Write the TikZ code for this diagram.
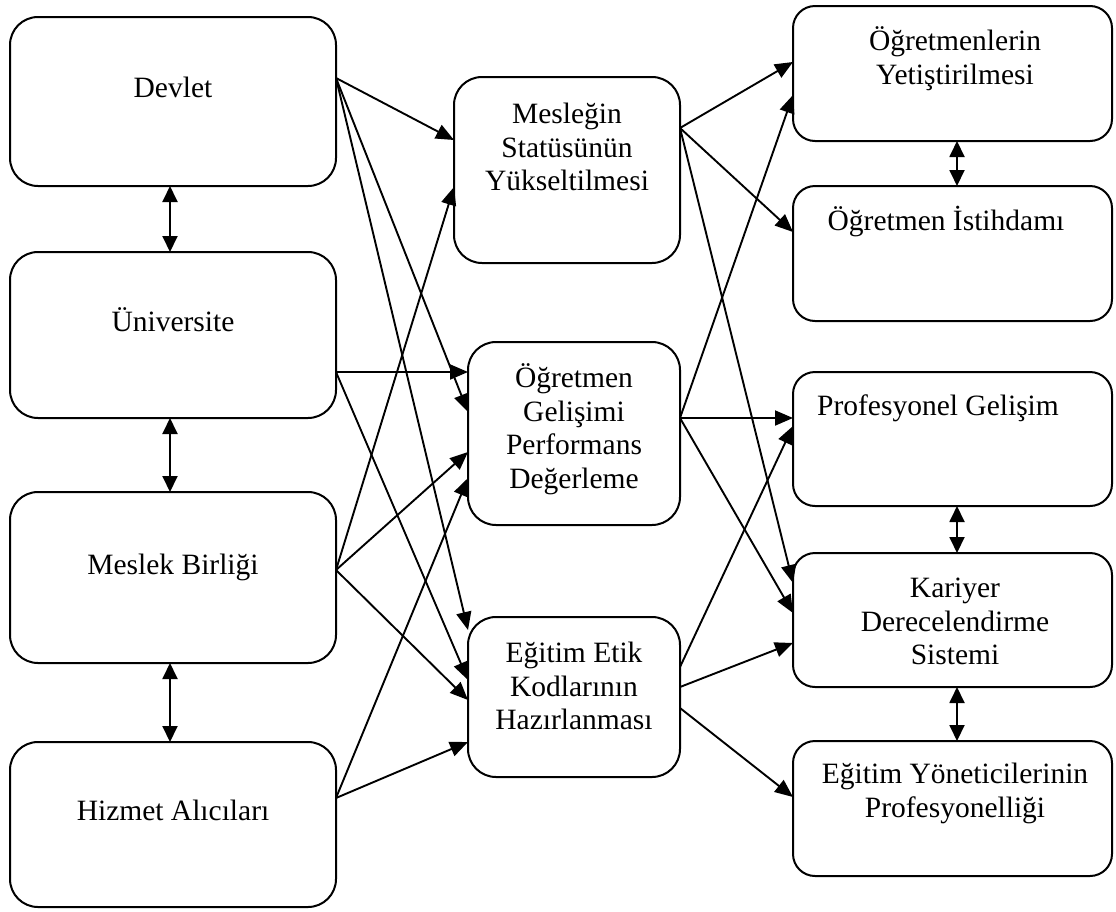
\documentclass[tikz,border=0pt]{standalone}
\usepackage{fontspec}
\setmainfont{Liberation Serif}
\usetikzlibrary{arrows.meta}
\newcommand\fstrut{\rule{0pt}{26pt}}
\begin{document}
\begin{tikzpicture}[x=1pt,y=-1pt,
  box/.style={draw=black, line width=2pt, rounded corners=28pt, inner sep=0pt, outer sep=0pt},
  lbox/.style={box, minimum width=326pt},
  mbox/.style={box, minimum width=212pt},
  rbox/.style={box, rounded corners=22pt, minimum width=319pt},
  txt/.style={anchor=north, inner sep=0pt, align=center, font=\fontsize{29.5}{33.8}\selectfont},
  arr/.style={line width=1.9pt, -{Triangle[length=18pt,width=15pt]}},
  darr/.style={line width=1.9pt, {Triangle[length=16pt,width=15pt]}-{Triangle[length=16pt,width=15pt]}},
]
\fill[white] (0,0) rectangle (1116,911);
\useasboundingbox (0,0) rectangle (1116,911);

% left column
\node[lbox, minimum height=169pt] (devlet) at (173,101.5) {};
\node[lbox, minimum height=166pt] (univ) at (173,335) {};
\node[lbox, minimum height=171pt] (meslek) at (173,577.5) {};
\node[lbox, minimum height=165pt] (hizmet) at (173,824.5) {};
\node[txt] (devlet-t) at (173,71) {\fstrut Devlet};
\node[txt] (univ-t) at (173,305) {\fstrut Üniversite};
\node[txt] (meslek-t) at (173,548) {\fstrut Meslek Birliği};
\node[txt] (hizmet-t) at (173,794) {\fstrut Hizmet Alıcıları};

% middle column
\node[box, minimum width=226pt, minimum height=186pt] (mes) at (567,170) {};
\node[mbox, minimum height=183pt] (og) at (574,433.5) {};
\node[mbox, minimum height=160pt] (etik) at (574,697) {};
\node[txt] (mes-t) at (567,97) {\fstrut Mesleğin\\Statüsünün\\Yükseltilmesi};
\node[txt] (og-t) at (574,361) {\fstrut Öğretmen\\Gelişimi\\Performans\\Değerleme};
\node[txt] (etik-t) at (574,636) {\fstrut Eğitim Etik\\Kodlarının\\Hazırlanması};

% right column
\node[rbox, minimum height=135pt] (oy) at (952.5,73.5) {};
\node[rbox, minimum height=135pt] (oi) at (952.5,253.5) {};
\node[rbox, minimum height=134pt] (pg) at (952.5,439) {};
\node[rbox, minimum height=134pt] (kd) at (952.5,620) {};
\node[rbox, minimum height=135pt] (ey) at (952.5,808.5) {};
\node[txt] (oy-t) at (955,24) {\fstrut Öğretmenlerin\\Yetiştirilmesi};
\node[txt] (oi-t) at (946,204) {\fstrut Öğretmen İstihdamı};
\node[txt] (pg-t) at (938,389) {\fstrut Profesyonel Gelişim};
\node[txt] (kd-t) at (955,571) {\fstrut Kariyer\\Derecelendirme\\Sistemi};
\node[txt] (ey-t) at (955,757) {\fstrut Eğitim Yöneticilerinin\\Profesyonelliği};

% vertical double arrows
\draw[darr] (devlet.south -| 170,0) -- (univ.north -| 170,0);
\draw[darr] (univ.south -| 170,0) -- (meslek.north -| 170,0);
\draw[darr] (meslek.south -| 170,0) -- (hizmet.north -| 170,0);
\draw[darr] (oy.south -| 957,0) -- (oi.north -| 957,0);
\draw[darr] (pg.south -| 957,0) -- (kd.north -| 957,0);
\draw[darr] (kd.south -| 957,0) -- (ey.north -| 957,0);

% left -> middle
\draw[arr] (devlet.east |- 0,78) -- (mes.west |- 0,140);
\draw[arr] (devlet.east |- 0,78) -- (og.west |- 0,412);
\draw[arr] (devlet.east |- 0,78) -- (etik.west |- 0,630);
\draw[arr] (univ.east |- 0,372) -- (og.west |- 0,372);
\draw[arr] (univ.east |- 0,372) -- (etik.west |- 0,680);
\draw[arr] (meslek.east |- 0,570) -- (mes.west |- 0,187);
\draw[arr] (meslek.east |- 0,570) -- (og.west |- 0,452);
\draw[arr] (meslek.east |- 0,570) -- (etik.west |- 0,700);
\draw[arr] (hizmet.east |- 0,798) -- (og.west |- 0,478);
\draw[arr] (hizmet.east |- 0,798) -- (etik.west |- 0,742);

% middle -> right
\draw[arr] (mes.east |- 0,128) -- (oy.west |- 0,62);
\draw[arr] (mes.east |- 0,128) -- (oi.west |- 0,232);
\draw[arr] (mes.east |- 0,128) -- (kd.west |- 0,583);
\draw[arr] (og.east |- 0,418) -- (oy.west |- 0,95);
\draw[arr] (og.east |- 0,418) -- (pg.west |- 0,418);
\draw[arr] (og.east |- 0,418) -- (kd.west |- 0,613);
\draw[arr] (etik.east |- 0,667) -- (pg.west |- 0,426);
\draw[arr] (etik.east |- 0,687) -- (kd.west |- 0,643);
\draw[arr] (etik.east |- 0,708) -- (ey.west |- 0,797);
\end{tikzpicture}
\end{document}
